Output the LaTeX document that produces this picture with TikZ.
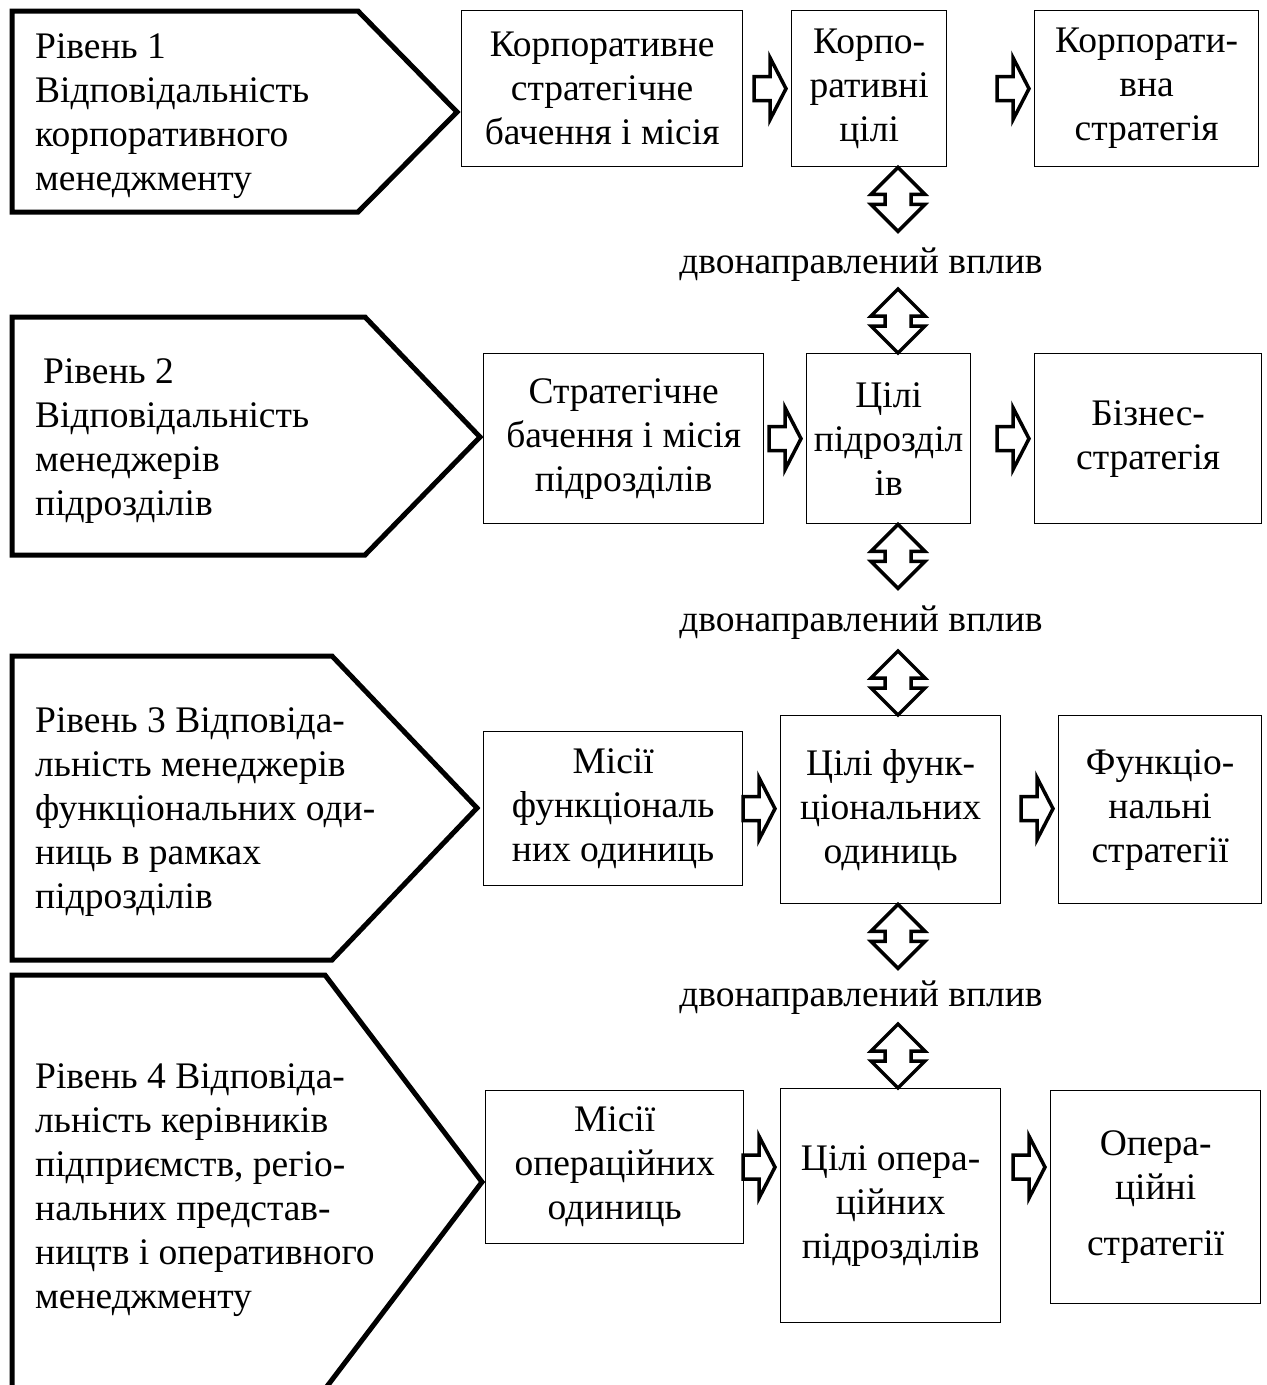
\documentclass[tikz,border=0pt]{standalone}
\usepackage{fontspec}
\setmainfont{Liberation Serif}
\usetikzlibrary{calc}
\begin{document}
\begin{tikzpicture}[x=1pt,y=-1pt,
  every node/.style={font=\fontsize{37.5}{44}\selectfont},
  box/.style={draw,line width=1.3pt,align=center,inner sep=0pt,anchor=north west},
  lvl/.style={draw,line width=5pt,line join=miter},
  lvltext/.style={align=left,anchor=west,inner sep=0pt},
  blk/.style={draw,line width=3.5pt,fill=white,line join=miter},
  lbl/.style={inner sep=0pt},
  rarrow/.pic={\draw[blk] (-16,-12) -- (0,-12) -- (0,-31) -- (16,0) -- (0,31) -- (0,12) -- (-16,12) -- cycle;},
  darrow/.pic={\draw[blk] (0,-32) -- (27,-5) -- (13,-5) -- (13,5) -- (27,5) -- (0,32) -- (-27,5) -- (-13,5) -- (-13,-5) -- (-27,-5) -- cycle;}]
\useasboundingbox (0,0) rectangle (1267,1385);
\clip (0,0) rectangle (1267,1385);
\fill[white] (0,0) rectangle (1267,1385);

% level pentagons
\draw[lvl] (12,11) -- (358,11) -- (457,112) -- (358,212) -- (12,212) -- cycle;
\node[lvltext] (L1) at (35,116) {Рівень 1\\Відповідальність\\корпоративного\\менеджменту};
\draw[lvl] (12,317) -- (365,317) -- (480,437) -- (365,555) -- (12,555) -- cycle;
\node[lvltext] (L2) at (35,441) {\hspace*{8pt}Рівень 2\\Відповідальність\\менеджерів\\підрозділів};
\draw[lvl] (12,656) -- (332,656) -- (477,808) -- (332,960) -- (12,960) -- cycle;
\node[lvltext] (L3) at (35,812) {Рівень 3 Відповіда-\\льність менеджерів\\функціональних оди-\\ниць в рамках\\підрозділів};
\draw[lvl] (12,975) -- (325,975) -- (482,1182) -- (325,1389) -- (12,1389) -- cycle;
\node[lvltext] (L4) at (35,1190) {Рівень 4 Відповіда-\\льність керівників\\підприємств, регіо-\\нальних представ-\\ництв і оперативного\\менеджменту};

% boxes
\node[box,minimum width=281pt,minimum height=156pt] (A1) at (461,10) {Корпоративне\\стратегічне\\бачення і місія};
\node[box,minimum width=155pt,minimum height=156pt] (B1) at (791,10) {Корпо-\\ративні\\цілі};
\node[box,minimum width=224pt,minimum height=156pt] (C1) at (1034,10) {Корпорати-\\вна\\стратегія};

\node[box,minimum width=280pt,minimum height=170pt] (A2) at (483,353) {Стратегічне\\бачення і місія\\підрозділів};
\node[box,minimum width=164pt,minimum height=170pt] (B2) at (806,353) {Цілі\\підрозділ\\ів};
\node[box,minimum width=227pt,minimum height=170pt] (C2) at (1034,353) {Бізнес-\\стратегія};

\node[box,minimum width=259pt,minimum height=154pt] (A3) at (483,731) {Місії\\функціональ\\них одиниць};
\node[box,minimum width=220pt,minimum height=188pt] (B3) at (780,715) {Цілі функ-\\ціональних\\одиниць};
\node[box,minimum width=203pt,minimum height=188pt] (C3) at (1058,715) {Функціо-\\нальні\\стратегії};

\node[box,minimum width=258pt,minimum height=153pt] (A4) at (485,1090) {Місії\\операційних\\одиниць};
\node[box,minimum width=220pt,minimum height=234pt] (B4) at (780,1088) {Цілі опера-\\ційних\\підрозділів};
\node[box,minimum width=210pt,minimum height=213pt] (C4) at (1050,1090) {Опера-\\ційні\\[12pt]стратегії};

% horizontal block arrows (tip just short of the target box)
\foreach \a/\b/\c in {A1/B1/C1,A2/B2/C2,A3/B3/C3,A4/B4/C4}{
  \pic at ($(\a.east -| \b.west)+(-21,0)$) {rarrow};
  \pic at ($(\a.east -| \c.west)+(-21,0)$) {rarrow};
}

% vertical double arrows and labels
\coordinate (ax) at (898,0);
\pic at ($(ax |- B1.south)+(0,32)$) {darrow};
\node[lbl] (V1) at (861,265) {двонаправлений вплив};
\pic at ($(ax |- B2.north)+(0,-32)$) {darrow};
\pic at ($(ax |- B2.south)+(0,32)$) {darrow};
\node[lbl] (V2) at (861,623) {двонаправлений вплив};
\pic at ($(ax |- B3.north)+(0,-32)$) {darrow};
\pic at ($(ax |- B3.south)+(0,32)$) {darrow};
\node[lbl] (V3) at (861,998) {двонаправлений вплив};
\pic at ($(ax |- B4.north)+(0,-32)$) {darrow};
\end{tikzpicture}
\end{document}
